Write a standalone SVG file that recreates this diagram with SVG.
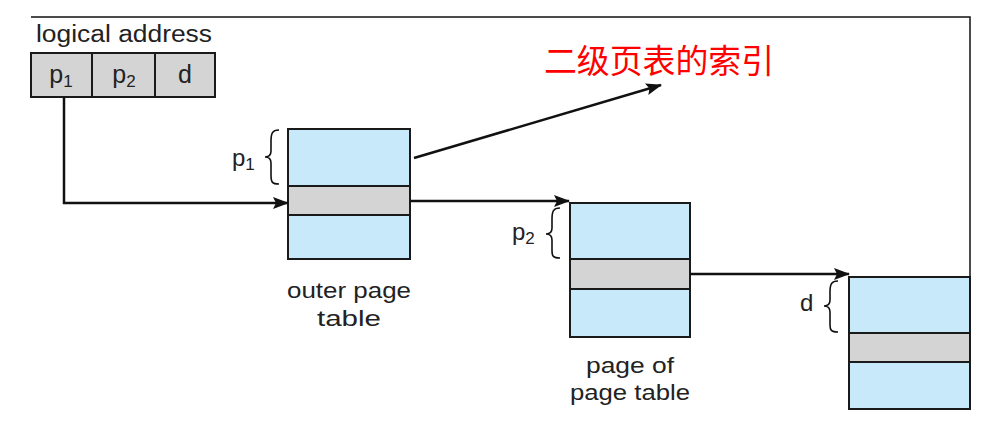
<svg xmlns="http://www.w3.org/2000/svg" width="989" height="437" viewBox="0 0 989 437">
<style>
.t{font-family:"Liberation Sans",Arial,sans-serif;fill:#222;}
.box{stroke:#1a1a1a;stroke-width:2;}
.blue{fill:#c8e9f9;}
.gray{fill:#d4d4d4;}
.conn{fill:none;stroke:#111;stroke-width:2.5;}
.brace{fill:none;stroke:#111;stroke-width:1.6;}
.cjk{font-family:"Noto Sans CJK SC",sans-serif;fill:#ff0000;}
</style>
<defs>
<marker id="ah" markerUnits="userSpaceOnUse" markerWidth="16" markerHeight="12" refX="15" refY="6" orient="auto">
<path d="M0,0 L16,6 L0,12 L3,6 Z" fill="#111"/>
</marker>
</defs>
<rect width="989" height="437" fill="#fff"/>

<g id="frame-line">
<path d="M31,17 H970 V276" fill="none" stroke="#111" stroke-width="1.5"/>
</g>

<g id="logical-address">
<text class="t" x="36" y="42" font-size="23" textLength="176" lengthAdjust="spacingAndGlyphs">logical address</text>
<rect class="box gray" x="31" y="53" width="184" height="44"/>
<line class="box" x1="92" y1="53" x2="92" y2="97"/>
<line class="box" x1="155" y1="53" x2="155" y2="97"/>
<text class="t" x="61" y="83" font-size="25" text-anchor="middle">p<tspan font-size="17" dy="4">1</tspan></text>
<text class="t" x="124" y="83" font-size="25" text-anchor="middle">p<tspan font-size="17" dy="4">2</tspan></text>
<text class="t" x="185" y="83" font-size="25" text-anchor="middle">d</text>
</g>

<g id="outer-page-table">
<rect class="box blue" x="288" y="129" width="122" height="130"/>
<rect class="box gray" x="288" y="186" width="122" height="29"/>
<path class="brace" d="M279,130 C272,130 271,134 271,141 L271,151 C271,155 269,157 265,157 C269,157 271,159 271,163 L271,175 C271,182 272,184 279,184"/>
<text class="t" x="232" y="166" font-size="24">p<tspan font-size="17" dy="4">1</tspan></text>
<text class="t" x="349" y="298" font-size="22" text-anchor="middle" textLength="124" lengthAdjust="spacingAndGlyphs">outer page</text>
<text class="t" x="349" y="326" font-size="22" text-anchor="middle" textLength="64" lengthAdjust="spacingAndGlyphs">table</text>
</g>

<g id="page-of-page-table">
<rect class="box blue" x="570" y="203" width="120" height="134"/>
<rect class="box gray" x="570" y="259" width="120" height="30"/>
<path class="brace" d="M560,208 C553,208 552,212 552,219 L552,228 C552,232 550,234 546,234 C550,234 552,236 552,240 L552,251 C552,256 553,258 560,258"/>
<text class="t" x="512" y="240" font-size="24">p<tspan font-size="17" dy="4">2</tspan></text>
<text class="t" x="630" y="373" font-size="22" text-anchor="middle" textLength="88" lengthAdjust="spacingAndGlyphs">page of</text>
<text class="t" x="630" y="400" font-size="22" text-anchor="middle" textLength="120" lengthAdjust="spacingAndGlyphs">page table</text>
</g>

<g id="page-table">
<rect class="box blue" x="849" y="277" width="121" height="132"/>
<rect class="box gray" x="849" y="333" width="121" height="29"/>
<path class="brace" d="M838,281 C831,281 830,285 830,292 L830,300 C830,304 828,306 824,306 C828,306 830,308 830,312 L830,325 C830,330 831,332 838,332"/>
<text class="t" x="800" y="311" font-size="24">d</text>
</g>

<g id="index-label">
<text class="cjk" x="544" y="73" font-size="33" textLength="230" lengthAdjust="spacingAndGlyphs">二级页表的索引</text>
</g>

<g id="connectors">
<path class="conn" d="M64,97 V203 H288" marker-end="url(#ah)"/>
<path class="conn" d="M410,201 H569" marker-end="url(#ah)"/>
<path class="conn" d="M690,274 H849" marker-end="url(#ah)"/>
<path class="conn" d="M414,158 L661,85" marker-end="url(#ah)"/>
</g>
</svg>
